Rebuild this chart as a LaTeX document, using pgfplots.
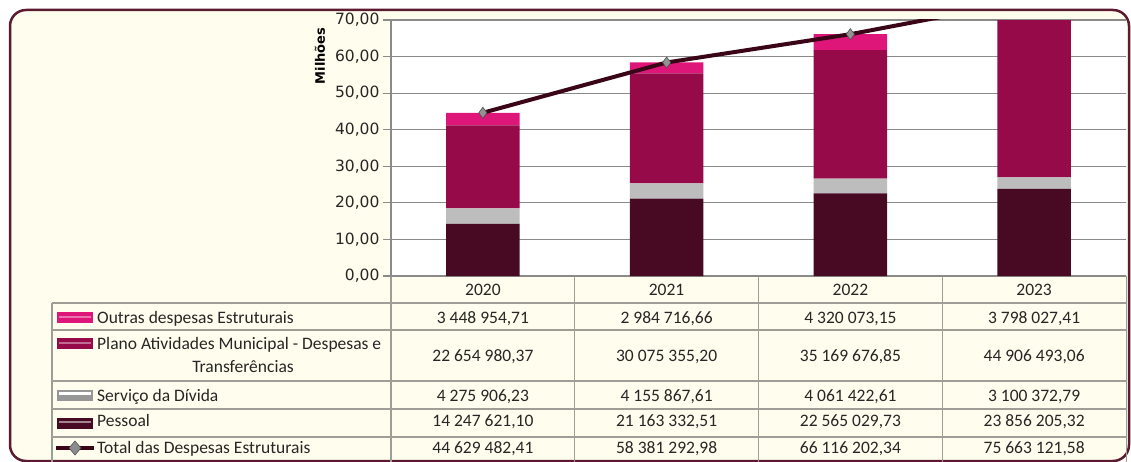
\documentclass[border=0pt]{standalone}
\usepackage{pgfplots}
\pgfplotsset{compat=1.18}
\usepackage{fontspec}
\setmainfont{Carlito}
\newfontfamily\tickfont{DejaVu Sans}
\definecolor{boxc}{HTML}{5A1A30}
\definecolor{cream}{HTML}{FFFDED}
\definecolor{gridc}{HTML}{8A8A8A}
\definecolor{tabc}{HTML}{9E9E96}
\definecolor{pess}{HTML}{480923}
\definecolor{serv}{HTML}{BDBDBD}
\definecolor{plano}{HTML}{960A4A}
\definecolor{outras}{HTML}{DE1679}
\definecolor{totc}{HTML}{3A0517}
\definecolor{txtc}{HTML}{262626}

\pgfplotstableread{
x pess serv plano outras total
0 14.247621 4.275906 22.654980 3.448955 44.629482
1 21.163333 4.155868 30.075355 2.984717 58.381293
2 22.565030 4.061423 35.169677 4.320073 66.116202
3 23.856205 3.100373 44.906493 3.798027 75.663122
}\data

\begin{document}
\begin{tikzpicture}
\useasboundingbox (0,0) rectangle (1131pt,461pt);
\begin{scope}[x=1pt,y=-1pt,shift={(0pt,461pt)}]
  \draw[boxc, line width=2.5pt, fill=cream, rounded corners=16pt] (10,10) rectangle (1129,461);
  \fill[white] (391,20) rectangle (1126,276);
  \foreach \yy in {303,330,381,409,437} \draw[tabc, line width=1.1pt] (52,\yy) -- (1127,\yy);
  \draw[tabc, line width=1.1pt] (52,303) -- (52,462);
  \foreach \xx in {391,574.75,758.5,942.25,1126.5} \draw[tabc, line width=1.1pt] (\xx,276) -- (\xx,462);
  \begin{scope}[every node/.style={inner sep=0pt, anchor=base, text=txtc, font=\fontsize{17.5}{20}\selectfont}]
    \node at (482.9,295) {2020};
    \node at (666.6,295) {2021};
    \node at (850.4,295) {2022};
    \node at (1034.1,295) {2023};
    \node at (482.9,323) {3 448 954,71};
    \node at (666.6,323) {2 984 716,66};
    \node at (850.4,323) {4 320 073,15};
    \node at (1034.1,323) {3 798 027,41};
    \node at (482.9,361) {22 654 980,37};
    \node at (666.6,361) {30 075 355,20};
    \node at (850.4,361) {35 169 676,85};
    \node at (1034.1,361) {44 906 493,06};
    \node at (482.9,401) {4 275 906,23};
    \node at (666.6,401) {4 155 867,61};
    \node at (850.4,401) {4 061 422,61};
    \node at (1034.1,401) {3 100 372,79};
    \node at (482.9,426) {14 247 621,10};
    \node at (666.6,426) {21 163 332,51};
    \node at (850.4,426) {22 565 029,73};
    \node at (1034.1,426) {23 856 205,32};
    \node at (482.9,453) {44 629 482,41};
    \node at (666.6,453) {58 381 292,98};
    \node at (850.4,453) {66 116 202,34};
    \node at (1034.1,453) {75 663 121,58};
    \node[anchor=base west] at (97,323) {Outras despesas Estruturais};
    \node[anchor=base west] at (97,349) {Plano Atividades Municipal - Despesas e};
    \node at (243,372) {Transferências};
    \node[anchor=base west] at (97,401) {Serviço da Dívida};
    \node[anchor=base west] at (97,426) {Pessoal};
    \node[anchor=base west] at (97,453) {Total das Despesas Estruturais};
  \end{scope}
  \fill[outras] (57,312) rectangle (93,323);
  \fill[outras!60!white] (59,316) rectangle (91,318);
  \fill[plano] (57,338) rectangle (93,349);
  \fill[plano!60!white] (59,342) rectangle (91,344);
  \fill[serv!80!black] (57,390) rectangle (93,401);
  \fill[white] (59,392) rectangle (91,395);
  \fill[pess] (57,418) rectangle (93,429);
  \fill[pess!50!white] (59,421) rectangle (91,423);
  \draw[totc, line width=4pt] (56,448) -- (94,448);
  \fill[gray!90, draw=gray!60!black, line width=0.5pt] (75,441) -- (81,448) -- (75,455) -- (69,448) -- cycle;
  \node[rotate=90, inner sep=0pt, font=\tickfont\bfseries\fontsize{13}{15}\selectfont, text=black] at (320,56) {Milhões};
\end{scope}

\begin{axis}[
  at={(391pt,185pt)}, anchor=south west,
  scale only axis, width=735pt, height=256pt,
  xmin=-0.5, xmax=3.5, ymin=0, ymax=70,
  ybar stacked, bar width=0.4,
  xtick=\empty, ytick={0,10,...,70},
  ymajorgrids, grid style={gridc, line width=1.1pt},
  axis lines*=left,
  axis line style={gridc, line width=1.1pt},
  tick align=outside, major tick length=8pt,
  tick style={gridc, line width=1.1pt},
  yticklabel style={font=\tickfont\fontsize{15.5}{17}\selectfont, text=black!85},
  /pgf/number format/.cd, fixed, fixed zerofill, precision=2, use comma, assume math mode=true,
]
\addplot[draw=none, fill=pess] table[x=x, y=pess] {\data};
\addplot[draw=none, fill=serv] table[x=x, y=serv] {\data};
\addplot[draw=none, fill=plano] table[x=x, y=plano] {\data};
\addplot[draw=none, fill=outras] table[x=x, y=outras] {\data};
\end{axis}

\begin{axis}[
  at={(391pt,185pt)}, anchor=south west,
  scale only axis, width=735pt, height=256pt,
  xmin=-0.5, xmax=3.5, ymin=0, ymax=70,
  hide axis, clip=true, clip marker paths=true,
]
\addplot[totc, line width=4pt, mark=diamond*, mark size=5.5pt,
  mark options={fill=gray!85, draw=gray!60!black, line width=0.6pt}] table[x=x, y=total] {\data};
\end{axis}
\end{tikzpicture}
\end{document}
